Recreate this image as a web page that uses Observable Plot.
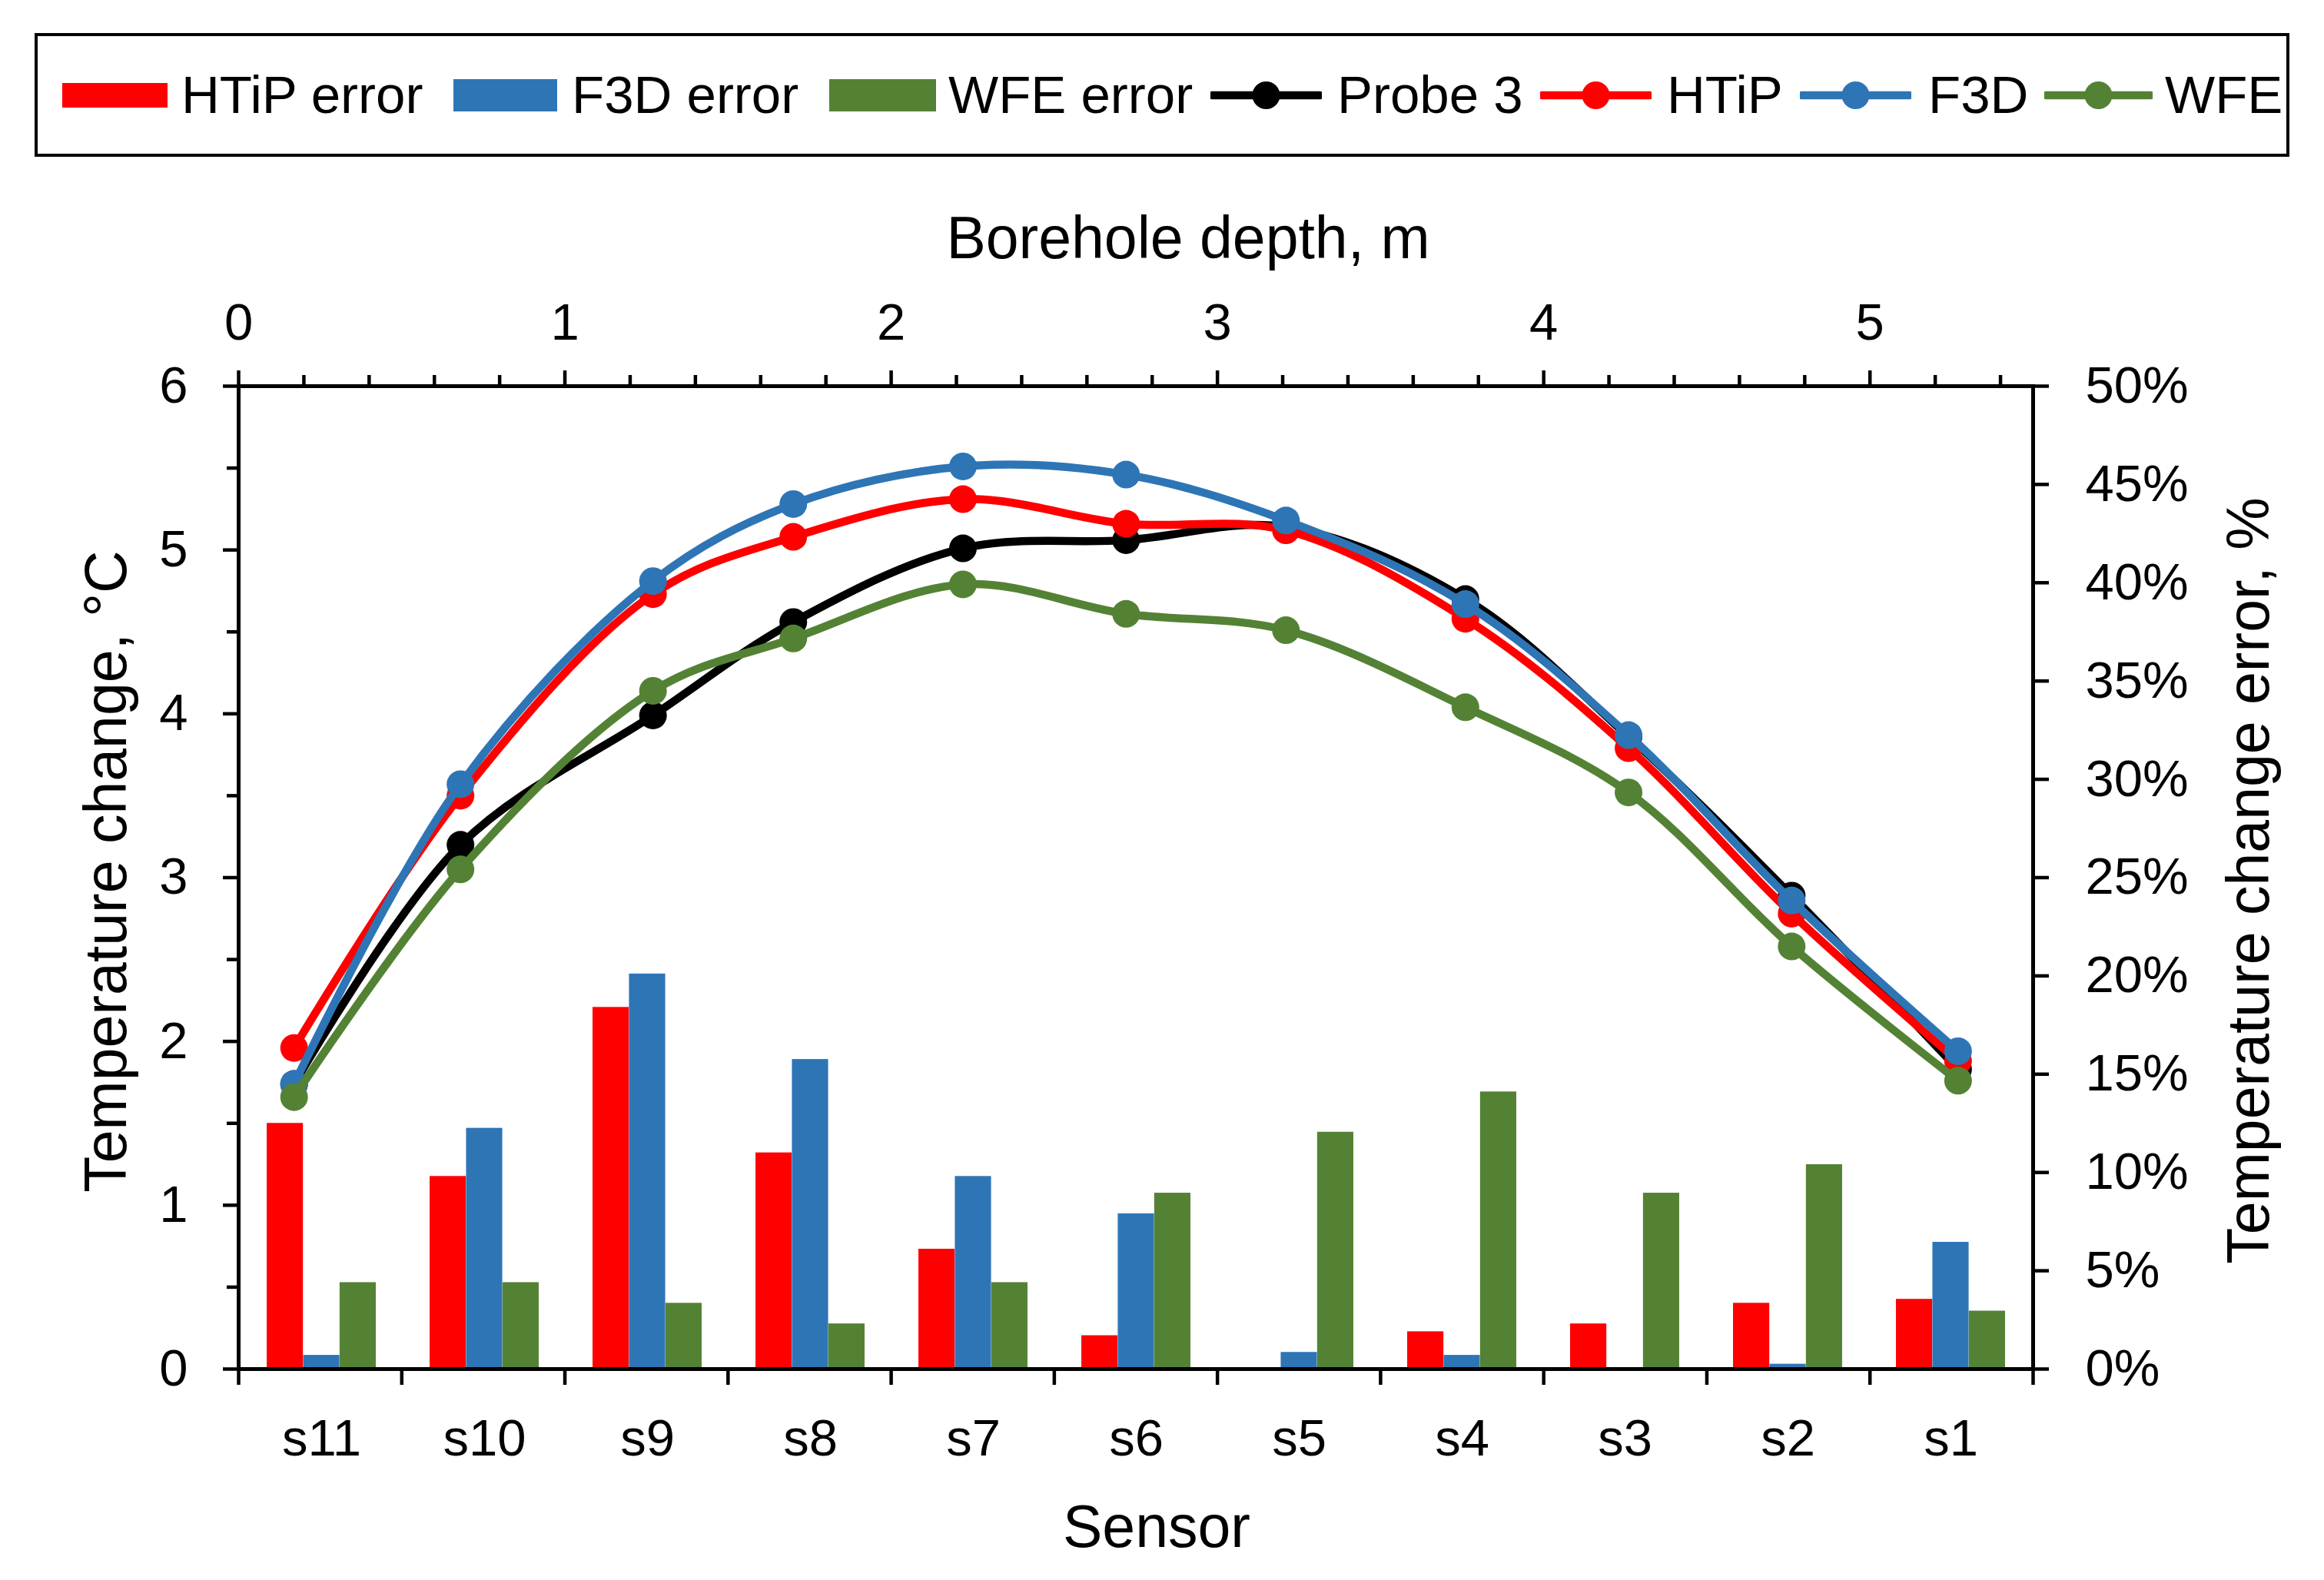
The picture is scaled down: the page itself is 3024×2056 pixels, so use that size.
<!DOCTYPE html>
<html>
<head>
<meta charset="utf-8">
<script src="https://cdn.jsdelivr.net/npm/d3@7"></script>
<script src="https://cdn.jsdelivr.net/npm/@observablehq/plot@0.6"></script>
<style>
html, body { margin: 0; padding: 0; background: #fff; }
body { width: 3024px; height: 2056px; position: relative; overflow: hidden; font-family: "Liberation Sans", Arial, sans-serif; }
#legendBox { position: absolute; left: 45px; top: 43px; width: 2934px; height: 161px; box-sizing: border-box; border: 4px solid #000; }
.lg { position: absolute; }
.lgText { position: absolute; font-size: 69px; line-height: 69px; white-space: nowrap; color: #000; }
#chart { position: absolute; left: 0; top: 220px; width: 3024px; height: 1836px; }
#chart svg { position: absolute; left: 0; top: 0; }
</style>
</head>
<body>
<div id="legendBox"></div>
<div id="legend"></div>
<div id="chart"></div>
<script>
// ---------------- data ----------------
const sensors = ["s11", "s10", "s9", "s8", "s7", "s6", "s5", "s4", "s3", "s2", "s1"];
const depth   = [0.17, 0.68, 1.27, 1.70, 2.22, 2.72, 3.21, 3.76, 4.26, 4.76, 5.27];

const probe3 = [1.74, 3.20, 3.99, 4.56, 5.01, 5.06, 5.14, 4.70, 3.86, 2.89, 1.83];
const htip   = [1.96, 3.50, 4.73, 5.08, 5.31, 5.16, 5.12, 4.58, 3.79, 2.78, 1.88];
const f3d    = [1.74, 3.57, 4.81, 5.28, 5.51, 5.46, 5.18, 4.67, 3.87, 2.86, 1.94];
const wfe    = [1.66, 3.05, 4.14, 4.46, 4.79, 4.61, 4.51, 4.04, 3.52, 2.58, 1.76];

// errors in %
const htipErr = [12.5, 9.8, 18.4, 11.0, 6.1, 1.7, 0, 1.9, 2.3, 3.35, 3.55];
const f3dErr  = [0.7, 12.25, 20.1, 15.75, 9.8, 7.9, 0.85, 0.7, 0, 0.25, 6.45];
const wfeErr  = [4.4, 4.4, 3.35, 2.3, 4.4, 8.95, 12.05, 14.1, 8.95, 10.4, 2.95];

// ticks
const depthTicks  = [0, 1, 2, 3, 4, 5];
const depthMinor  = [0.2, 0.4, 0.6, 0.8, 1.2, 1.4, 1.6, 1.8, 2.2, 2.4, 2.6, 2.8, 3.2, 3.4, 3.6, 3.8, 4.2, 4.4, 4.6, 4.8, 5.2, 5.4];
const sensorEdges = [0, 0.5, 1, 1.5, 2, 2.5, 3, 3.5, 4, 4.5, 5, 5.5];
const tempTicks   = [0, 1, 2, 3, 4, 5, 6];
const tempMinor   = [0.5, 1.5, 2.5, 3.5, 4.5, 5.5];
const errTicks    = [0, 5, 10, 15, 20, 25, 30, 35, 40, 45, 50];

const seriesNames = ["HTiP error", "F3D error", "WFE error", "Probe 3", "HTiP", "F3D", "WFE"];

// ---------------- styles ----------------
const RED = "#FF0000", BLUE = "#2E75B6", GREEN = "#548235", BLACK = "#000000";
const font = '"Liberation Sans", Arial, sans-serif';
const W = 3024, H = 1836, ML = 310, MR = 379, MT = 282, MB = 275;

const rows = (vals) => sensors.map((s, i) => ({sensor: s, depth: depth[i], value: vals[i]}));

const bw = (W - ML - MR) / sensors.length;
const gap = bw * 0.165;
const barW = (bw - 2 * gap) / 3;
const intFmt = d => String(d);

// ---------------- bar plot (band x, % y) ----------------
const barPlot = Plot.plot({
  width: W, height: H,
  marginLeft: ML, marginRight: MR, marginTop: MT, marginBottom: MB,
  style: {fontFamily: font, fontSize: "67px", background: "transparent", color: "#000"},
  x: {type: "band", domain: sensors, padding: 0},
  y: {domain: [0, 50]},
  marks: [
    Plot.barY(rows(htipErr), {x: "sensor", y: "value", fill: RED, insetLeft: gap, insetRight: bw - gap - barW}),
    Plot.barY(rows(f3dErr), {x: "sensor", y: "value", fill: BLUE, insetLeft: gap + barW, insetRight: gap + barW}),
    Plot.barY(rows(wfeErr), {x: "sensor", y: "value", fill: GREEN, insetLeft: bw - gap - barW, insetRight: gap}),
    Plot.axisX({anchor: "bottom", tickSize: 0, tickPadding: 65, fontSize: 67, label: null}),
    Plot.axisY({anchor: "right", ticks: errTicks, tickFormat: d => d + "%", tickSize: 20, tickPadding: 48,
                fontSize: 67, strokeWidth: 4.5, label: null})
  ]
});

// ---------------- line plot (depth x, temperature y) ----------------
const lineSeries = [
  {vals: probe3, color: BLACK},
  {vals: htip, color: RED},
  {vals: f3d, color: BLUE},
  {vals: wfe, color: GREEN}
];
const seriesMarks = [];
for (const s of lineSeries) {
  seriesMarks.push(Plot.line(rows(s.vals), {x: "depth", y: "value", stroke: s.color, strokeWidth: 10.5, curve: "catmull-rom"}));
  seriesMarks.push(Plot.dot(rows(s.vals), {x: "depth", y: "value", fill: s.color, r: 18, stroke: "none"}));
}

const linePlot = Plot.plot({
  width: W, height: H,
  marginLeft: ML, marginRight: MR, marginTop: MT, marginBottom: MB,
  style: {fontFamily: font, fontSize: "67px", background: "transparent", color: "#000"},
  x: {domain: [0, 5.5]},
  y: {domain: [0, 6]},
  marks: [
    Plot.axisX({anchor: "top", ticks: depthTicks, tickFormat: intFmt, tickSize: 21, tickPadding: 40, fontSize: 67, strokeWidth: 4.5, label: null}),
    Plot.axisX({anchor: "top", ticks: depthMinor, tickSize: 15, tickFormat: () => "", strokeWidth: 4.5, label: null}),
    Plot.axisX({anchor: "bottom", ticks: sensorEdges, tickSize: 21, tickFormat: () => "", strokeWidth: 4.5, label: null}),
    Plot.axisY({anchor: "left", ticks: tempTicks, tickFormat: intFmt, tickSize: 20, tickPadding: 46, fontSize: 67, strokeWidth: 4.5, label: null}),
    Plot.axisY({anchor: "left", ticks: tempMinor, tickSize: 15, tickFormat: () => "", strokeWidth: 4.5, label: null}),
    Plot.frame({stroke: "#000", strokeWidth: 5}),
    ...seriesMarks,
    Plot.text(["Borehole depth, m"], {text: d => d, frameAnchor: "top", dx: 68, dy: -167, lineAnchor: "bottom", fontSize: 77}),
    Plot.text(["Sensor"], {text: d => d, frameAnchor: "bottom", dx: 27, dy: 231, lineAnchor: "bottom", fontSize: 77}),
    Plot.text(["Temperature change, °C"], {text: d => d, frameAnchor: "left", dx: -171, dy: -8, rotate: -90,
               textAnchor: "middle", lineAnchor: "middle", fontSize: 77}),
    Plot.text(["Temperature change error, %"], {text: d => d, frameAnchor: "right", dx: 282, dy: 4, rotate: -90,
               textAnchor: "middle", lineAnchor: "middle", fontSize: 77})
  ]
});

const chart = document.getElementById("chart");
chart.appendChild(barPlot);
chart.appendChild(linePlot);

// ---------------- legend ----------------
const legend = document.getElementById("legend");
const legendLayout = [
  {kind: "bar", color: RED,   x: 81,   w: 137, top: 108, h: 32, tx: 236},
  {kind: "bar", color: BLUE,  x: 590,  w: 135, top: 103, h: 42, tx: 744},
  {kind: "bar", color: GREEN, x: 1079, w: 139, top: 103, h: 42, tx: 1234},
  {kind: "line", color: BLACK, x: 1575, w: 145, tx: 1740},
  {kind: "line", color: RED,   x: 2004, w: 145, tx: 2169},
  {kind: "line", color: BLUE,  x: 2342, w: 145, tx: 2509},
  {kind: "line", color: GREEN, x: 2660, w: 141, tx: 2817}
];
legendLayout.forEach((it, i) => {
  if (it.kind === "bar") {
    const d = document.createElement("div");
    d.className = "lg";
    Object.assign(d.style, {left: it.x + "px", top: it.top + "px", width: it.w + "px", height: it.h + "px", background: it.color});
    legend.appendChild(d);
  } else {
    const svg = d3.create("svg").attr("class", "lg").attr("width", it.w).attr("height", 40)
      .style("left", it.x + "px").style("top", "104px");
    svg.append("line").attr("x1", 2).attr("x2", it.w - 2).attr("y1", 20).attr("y2", 20)
      .attr("stroke", it.color).attr("stroke-width", 10.5).attr("stroke-linecap", "round");
    svg.append("circle").attr("cx", it.w / 2).attr("cy", 20).attr("r", 18).attr("fill", it.color);
    legend.appendChild(svg.node());
  }
  const t = document.createElement("div");
  t.className = "lgText";
  t.textContent = seriesNames[i];
  Object.assign(t.style, {left: it.tx + "px", top: "88.5px"});
  legend.appendChild(t);
});
</script>
</body>
</html>
